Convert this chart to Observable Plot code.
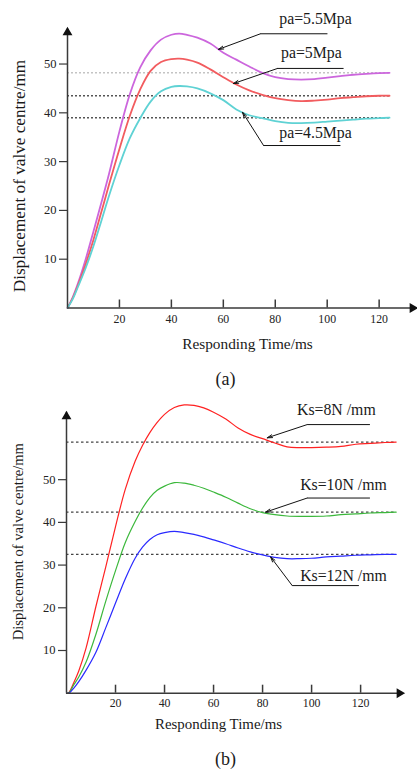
<!DOCTYPE html>
<html><head><meta charset="utf-8">
<script src="https://cdn.jsdelivr.net/npm/d3@7"></script>
<script src="https://cdn.jsdelivr.net/npm/@observablehq/plot@0.6"></script>
<style>
html,body{margin:0;padding:0;background:#fff;}
#wrap{position:relative;width:417px;height:771px;overflow:hidden;background:#fff;}
#a,#b{position:absolute;left:0;}
#a{top:0}
#b{top:390px}
</style></head><body><div id="wrap"><div id="a"></div><div id="b"></div></div>
<script>
const FONT = '"Liberation Serif","Times New Roman",serif';

// ---------- Chart (a) ----------
const timeA = [0,2,4,7,10,13,16,20,24,28,32,36,40,43,46,50,55,60,65,70,75,80,85,90,95,100,105,110,115,120,124];
const pa55 = [0,2.2,5,10,15.7,21.5,27.5,36.2,43.8,49.3,52.8,55.0,56.0,56.25,56.0,55.4,54.2,52.3,50.9,49.5,48.2,47.3,46.9,46.8,46.9,47.2,47.5,47.8,48.0,48.15,48.2];
const pa50 = [0,2,4.6,9,14,19.6,25.3,32.6,39.4,44.8,48.6,50.4,51.0,51.1,50.9,50.3,48.9,47.3,45.8,44.6,43.7,43.0,42.6,42.4,42.5,42.7,43.0,43.2,43.4,43.5,43.5];
const pa45 = [0,1.8,4.3,8.2,12.7,17.8,23.0,29.3,34.8,38.9,42.3,44.4,45.3,45.5,45.4,45.0,44.0,42.6,40.7,39.5,38.9,38.3,37.95,37.9,38.0,38.2,38.4,38.6,38.8,38.9,39.0];
const refsA = [48.2, 43.5, 39.0];
const xTicksA = [20,40,60,80,100,120];
const yTicksA = [10,20,30,40,50];
const xMaxA = 134, yMaxA = 57.2;
const labelsA = ["pa=5.5Mpa","pa=5Mpa","pa=4.5Mpa"];
const labelXA = [95.5, 93.9, 95.5];
const labelYA = [59.3, 52.25, 35.9];
const elbowXA = [74.3, 80.9, 75.5];
const elbowYA = [56.2, 49.1, 33.3];
const shelfEndA = [100.1, 106.3, 105.1];
const tipXA = [58.1, 63.9, 67.4];
const tipYA = [53.0, 46.0, 40.1];

// ---------- Chart (b) ----------
const timeB = [0,1,3,5,8,12,16,20,24,28,31,34,37,40,44,48,52,56,60,65,70,75,80,85,90,95,100,106,112,118,124,130,134.5];
const ks8  = [0,0.2,2.5,5.2,10.6,20.3,29.5,39.0,47.8,54.3,58.0,61.0,63.4,65.3,66.9,67.5,67.4,66.8,65.8,64.2,62.1,60.6,59.6,58.6,57.7,57.5,57.5,57.6,57.8,58.3,58.5,58.7,58.8];
const ks10 = [0,0.1,2.0,3.8,7.3,13.8,21.5,28.7,35.3,40.2,43.3,45.8,47.5,48.5,49.3,49.2,48.7,48.0,47.1,45.9,44.5,43.2,42.3,41.8,41.5,41.4,41.4,41.5,41.8,42.0,42.2,42.3,42.4];
const ks12 = [0,0,1.2,2.7,5.4,9.6,15.3,21.1,26.8,31.6,34.2,36.0,37.1,37.6,37.9,37.6,37.2,36.6,35.9,35.0,34.0,33.1,32.4,31.8,31.5,31.5,31.6,31.9,32.1,32.3,32.4,32.5,32.5];
const refsB = [58.8, 42.4, 32.5];
const xTicksB = [20,40,60,80,100,120];
const yTicksB = [10,20,30,40,50];
const xMaxB = 137.5, yMaxB = 65.8;
const labelsB = ["Ks=8N /mm","Ks=10N /mm","Ks=12N /mm"];
const labelXB = [110.1, 113, 113];
const labelYB = [66.3, 48.8, 27.5];
const elbowXB = [98.2, 98.2, 92.1];
const elbowYB = [62.9, 45.7, 25.2];
const shelfEndB = [123.8, 123.8, 119.3];
const tipXB = [81.9, 81.2, 83.3];
const tipYB = [59.8, 42.4, 31.9];

const xLabel = "Responding Time/ms";
const yLabel = "Displacement of valve centre/mm";

function rows(ts, vs) { return ts.map((t, i) => ({t, v: vs[i]})); }
function annots(labels, lx, ly, ex, ey, fx, px, py) {
  return labels.map((s, i) => ({s, lx: lx[i], ly: ly[i], ex: ex[i], ey: ey[i], fx: fx[i], px: px[i], py: py[i]}));
}

function chart(cfg) {
  const ann = cfg.ann;
  const lastT = cfg.time[cfg.time.length - 1];
  const marks = [
    Plot.ruleY(cfg.refs, {x1: 0, x2: lastT, stroke: (d, i) => cfg.refColors[i], strokeWidth: cfg.refWidth, strokeDasharray: cfg.refDash}),
    ...cfg.series.map(s => Plot.line(rows(cfg.time, s.values), {x: "t", y: "v", stroke: s.color, strokeWidth: cfg.lineWidth, curve: "catmull-rom"})),
    Plot.ruleX([0], {stroke: "#3a3a3a", strokeWidth: 1.5}),
    Plot.ruleY([0], {stroke: "#3a3a3a", strokeWidth: 1.5}),
    Plot.axisX({ticks: cfg.xTicks, tickSize: -8, tickPadding: cfg.xPad, fontSize: 11.8, label: null, stroke: "#3a3a3a", strokeWidth: 1.5, fill: "#222", tickFormat: d => String(d)}),
    Plot.axisY({ticks: cfg.yTicks, tickSize: 8, tickPadding: 3, fontSize: 12.5, label: null, stroke: "#3a3a3a", strokeWidth: 1.2, fill: "#222", tickFormat: d => String(d)}),
    Plot.dot([{x: cfg.xMax, y: 0}], {x: "x", y: "y", symbol: "triangle", rotate: 90, r: 2.7, fill: "#111", stroke: "#111", dx: cfg.arrowDx}),
    Plot.dot([{x: 0, y: cfg.yMax}], {x: "x", y: "y", symbol: "triangle", r: 2.7, fill: "#111", stroke: "#111", dy: cfg.arrowDy}),
    Plot.link(ann, {x1: "ex", y1: "ey", x2: "fx", y2: "ey", stroke: "#111", strokeWidth: 1}),
    Plot.arrow(ann, {x1: "ex", y1: "ey", x2: "px", y2: "py", stroke: "#111", strokeWidth: 1, headLength: 8, headAngle: 32}),
    Plot.text(ann, {x: "lx", y: "ly", text: "s", fontSize: 15.8, fill: "#1a1a1a", textAnchor: "middle", lineAnchor: "middle"}),
    Plot.text([xLabel], {frameAnchor: "bottom", dx: cfg.xlDx, dy: cfg.xlDy, fontSize: cfg.xlSize, fill: "#1a1a1a", textAnchor: "middle", lineAnchor: "middle"}),
    Plot.text([yLabel], {frameAnchor: "left", rotate: -90, dx: -48.5, dy: cfg.ylDy, fontSize: cfg.ylSize, fill: "#1a1a1a", textAnchor: "middle", lineAnchor: "middle"}),
    Plot.text([cfg.caption], {frameAnchor: "bottom", dx: cfg.capDx, dy: cfg.capDy, fontSize: 18, fill: "#1a1a1a", textAnchor: "middle", lineAnchor: "middle"})
  ];
  return Plot.plot({
    width: 417, height: cfg.height,
    marginLeft: cfg.ml, marginRight: cfg.mr, marginTop: cfg.mt, marginBottom: cfg.mb,
    style: {fontFamily: FONT, background: "transparent", overflow: "visible", color: "#222"},
    x: {domain: [0, cfg.xMax]},
    y: {domain: [0, cfg.yMax]},
    marks
  });
}

const plotA = chart({
  height: 390, ml: 67, mr: 2, mt: 28.4, mb: 82.5,
  time: timeA, xMax: xMaxA, yMax: yMaxA, xTicks: xTicksA, yTicks: yTicksA,
  refs: refsA, refColors: ["#c4c4c4", "#555555", "#555555"], refWidth: 1.6, refDash: "2,2",
  series: [{values: pa55, color: "#cc66dd"}, {values: pa50, color: "#f25c5f"}, {values: pa45, color: "#5fd2d4"}],
  lineWidth: 1.8, xPad: 15.1, arrowDx: -3, arrowDy: 3.6,
  ann: annots(labelsA, labelXA, labelYA, elbowXA, elbowYA, shelfEndA, tipXA, tipYA),
  xlDx: 6, xlDy: 35.6, xlSize: 15.3, ylDy: 7.6, ylSize: 17.2,
  caption: "(a)", capDx: -16, capDy: 71.7
});
document.getElementById("a").appendChild(plotA);

const plotB = chart({
  height: 381, ml: 66, mr: 14, mt: 21.7, mb: 78.3,
  time: timeB, xMax: xMaxB, yMax: yMaxB, xTicks: xTicksB, yTicks: yTicksB,
  refs: refsB, refColors: ["#444444", "#444444", "#444444"], refWidth: 1.3, refDash: "2.5,2.5",
  series: [{values: ks8, color: "#ff2222"}, {values: ks10, color: "#3cb83c"}, {values: ks12, color: "#2a2aff"}],
  lineWidth: 1.2, xPad: 13.6, arrowDx: -4, arrowDy: 4.3,
  ann: annots(labelsB, labelXB, labelYB, elbowXB, elbowYB, shelfEndB, tipXB, tipYB),
  xlDx: -16.5, xlDy: 31.5, xlSize: 14.9, ylDy: -11, ylSize: 14.6,
  caption: "(b)", capDx: -9.5, capDy: 66.2
});
document.getElementById("b").appendChild(plotB);
</script>
</body></html>
